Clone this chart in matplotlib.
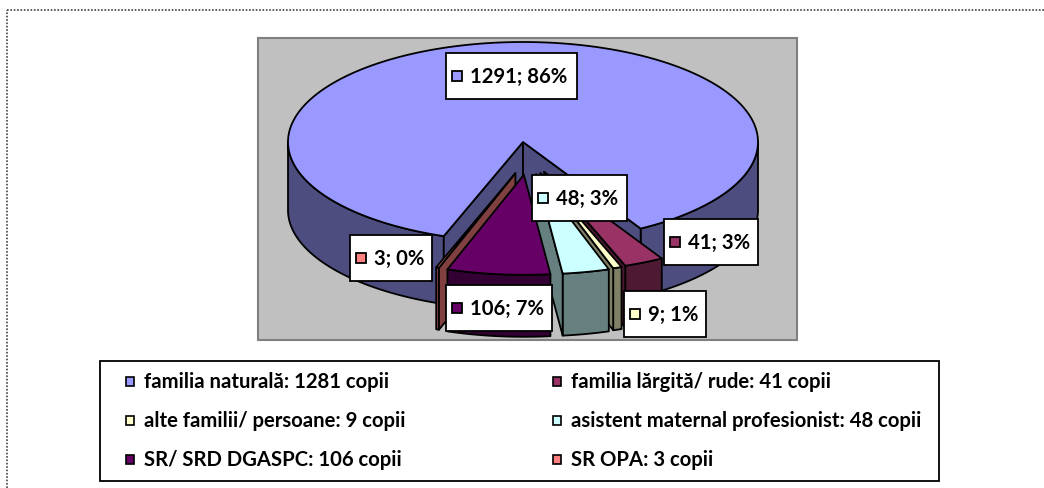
import numpy as np
import matplotlib
matplotlib.use('Agg')
import matplotlib.pyplot as plt
from matplotlib.patches import Polygon, Rectangle

# chart data
values = [1291, 41, 9, 48, 106, 3]
slice_labels = ['1291; 86%', '41; 3%', '9; 1%', '48; 3%', '106; 7%', '3; 0%']
legend_labels = ['familia naturală: 1281 copii', 'familia lărgită/ rude: 41 copii',
                 'alte familii/ persoane: 9 copii', 'asistent maternal profesionist: 48 copii',
                 'SR/ SRD DGASPC: 106 copii', 'SR OPA: 3 copii']
top_colors = ['#9999FF', '#993366', '#FFFFCC', '#CCFFFF', '#660066', '#FF8080']
side_colors = ['#4D4D80', '#4D1933', '#808066', '#668080', '#330033', '#804040']
exploded = [False, True, True, True, True, True]

# label boxes in pixels: left, top, right, bottom
label_boxes = [(446, 54, 577, 100), (664, 220, 758, 266), (624, 292, 706, 338),
               (532, 176, 627, 222), (446, 286, 552, 332), (350, 236, 432, 282)]
legend_pos = [(129.5, 382), (557, 382), (129.5, 421), (557, 421), (129.5, 460), (557, 460)]

# pie projection in pixels
CX, CY = 523, 143
RX, RY = 235, 100
DEPTH_BIG, DEPTH_SMALL = 68, 62
EXPLODE_X, EXPLODE_Y, SHIFT_X = 38, 33, 5
START = 199.7  # clockwise from 12 o'clock
FONT = 'Lato'


def rim(a, cx, cy):
    r = np.radians(a)
    return cx + RX * np.sin(r), cy - RY * np.cos(r)


def face(ax, pts, color):
    ax.add_patch(Polygon(pts, closed=True, facecolor=color, edgecolor='black', lw=1.3, joinstyle='round'))


def draw_slice(ax, a0, a1, top, side, cx, cy, depth):
    # outer wall, only the part turned towards the viewer
    for lo, hi in [(90, 270), (450, 630)]:
        s, e = max(a0, lo), min(a1, hi)
        if s < e:
            arc = np.linspace(s, e, 120)
            xs, ys = rim(arc, cx, cy)
            pts = list(zip(xs, ys)) + list(zip(xs[::-1], ys[::-1] + depth))
            face(ax, pts, side)
    # cut faces
    for a, visible in [(a0, np.sin(np.radians(a0)) < 0), (a1, np.sin(np.radians(a1)) > 0)]:
        if visible:
            x, y = rim(a, cx, cy)
            face(ax, [(cx, cy), (x, y), (x, y + depth), (cx, cy + depth)], side)
    arc = np.linspace(a0, a1, 300)
    xs, ys = rim(arc, cx, cy)
    face(ax, [(cx, cy)] + list(zip(xs, ys)), top)


fig = plt.figure(figsize=(10.44, 4.89), dpi=100)
ax = fig.add_axes([0, 0, 1, 1])
ax.set_xlim(0, 1044)
ax.set_ylim(489, 0)
ax.axis('off')

# dotted page frame
ax.plot([6.5, 6.5], [489, 11], color='#333333', lw=1.1, ls=(0, (1.1, 1.1)))
ax.plot([6.5, 1044], [11, 11], color='#333333', lw=1.1, ls=(0, (1.1, 1.1)))

ax.add_patch(Rectangle((258, 39), 539, 302, facecolor='#C0C0C0', edgecolor='#808080', lw=1.5))

# slice angles from the values
angles = START + np.concatenate([[0], np.cumsum(values)]) / sum(values) * 360
spans = [(angles[i], angles[i + 1]) for i in range(len(values))]

# big slice first, then small ones back to front
for i in [0, 5, 1, 2, 3, 4]:
    a0, a1 = spans[i]
    cx, cy, depth = CX, CY, DEPTH_BIG
    if exploded[i]:
        mid = np.radians((a0 + a1) / 2)
        cx = CX + SHIFT_X + EXPLODE_X * np.sin(mid)
        cy = CY - EXPLODE_Y * np.cos(mid)
        depth = DEPTH_SMALL
    draw_slice(ax, a0, a1, top_colors[i], side_colors[i], cx, cy, depth)

# data labels
for i, (l, t, r, b) in enumerate(label_boxes):
    ax.add_patch(Rectangle((l, t), r - l, b - t, facecolor='white', edgecolor='black', lw=1.3, zorder=5))
    ym = (t + b) / 2
    ax.add_patch(Rectangle((l + 6, ym - 5), 10, 10, facecolor=top_colors[i], edgecolor='black', lw=1.3, zorder=6))
    ax.text(l + 24, ym, slice_labels[i], fontsize=14.6, fontweight='bold', family=FONT,
            va='center', ha='left', color='black', zorder=6)

# legend
ax.add_patch(Rectangle((100, 362), 839, 120, facecolor='white', edgecolor='black', lw=1.3))
for (x, y), label, color in zip(legend_pos, legend_labels, top_colors):
    ax.add_patch(Rectangle((x - 4, y - 4.5), 8, 9, facecolor=color, edgecolor='black', lw=1.2))
    ax.text(x + 14, y, label, fontsize=14.6, fontweight='bold', family=FONT, va='center', ha='left')

fig.savefig('out.png', dpi=100)
